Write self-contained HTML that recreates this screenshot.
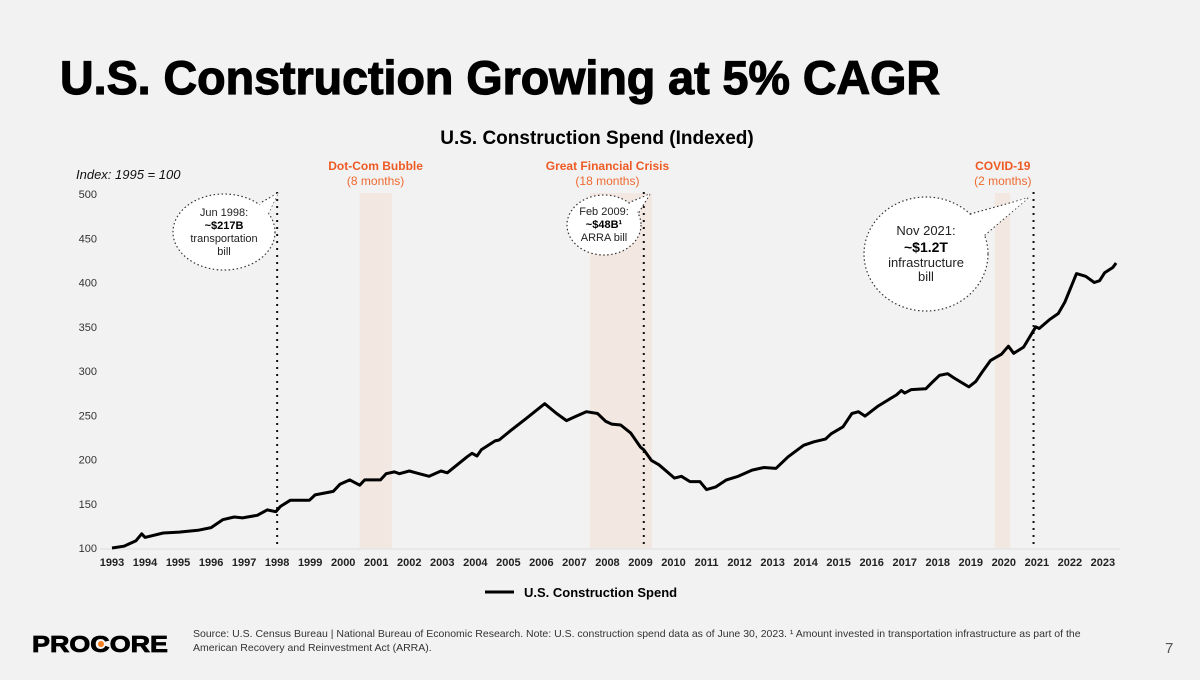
<!DOCTYPE html>
<html><head><meta charset="utf-8">
<style>
html,body{margin:0;padding:0;background:#f2f2f2;}
body{width:1200px;height:675px;overflow:hidden;position:relative;font-family:"Liberation Sans",sans-serif;}
svg text{font-family:"Liberation Sans",sans-serif;}
</style></head>
<body>
<svg id="chart" width="1200" height="675" viewBox="0 0 1200 675" xmlns="http://www.w3.org/2000/svg">
<rect width="1200" height="675" fill="#f2f2f2"/>
<text x="60" y="94" font-size="47" font-weight="bold" fill="#000" stroke="#000" stroke-width="1.2" textLength="880" lengthAdjust="spacingAndGlyphs">U.S. Construction Growing at 5% CAGR</text>
<text x="597" y="144" font-size="19" font-weight="bold" text-anchor="middle" fill="#000">U.S. Construction Spend (Indexed)</text>
<text x="76" y="179" font-size="13" font-style="italic" fill="#111">Index: 1995 = 100</text>
<g id="shades"></g>
<g id="events"></g>
<g id="yaxis"></g>
<g id="xaxis"></g>
<line x1="100" y1="549" x2="1120" y2="549" stroke="#ddd" stroke-width="1"/>
<g id="vlines"></g>
<path id="series" fill="none" stroke="#000" stroke-width="3" stroke-linejoin="round"/>
<g>
<path d="M262,202 L278,193 L268,214 Z" fill="#fff" stroke="#333" stroke-width="1.2" stroke-dasharray="1.5,2.5"/>
<ellipse cx="224" cy="232" rx="51" ry="38" fill="#fff" stroke="#333" stroke-width="1.2" stroke-dasharray="1.5,2.5"/>
<path d="M258,206 L278,193 L268,214" fill="#fff"/>
<text x="224" y="216" font-size="11" text-anchor="middle" fill="#222">Jun 1998:</text>
<text x="224" y="229" font-size="11" font-weight="bold" text-anchor="middle" fill="#000">~$217B</text>
<text x="224" y="242" font-size="11" text-anchor="middle" fill="#222">transportation</text>
<text x="224" y="255" font-size="11" text-anchor="middle" fill="#222">bill</text>
</g>
<g>
<path d="M628,203 L650,194 L638,214 Z" fill="#fff" stroke="#333" stroke-width="1.2" stroke-dasharray="1.5,2.5"/>
<ellipse cx="604" cy="225" rx="37" ry="30" fill="#fff" stroke="#333" stroke-width="1.2" stroke-dasharray="1.5,2.5"/>
<path d="M625,206 L650,194 L636,214" fill="#fff"/>
<text x="604" y="215" font-size="11" text-anchor="middle" fill="#222">Feb 2009:</text>
<text x="604" y="228" font-size="11" font-weight="bold" text-anchor="middle" fill="#000">~$48B¹</text>
<text x="604" y="241" font-size="11" text-anchor="middle" fill="#222">ARRA bill</text>
</g>
<g>
<path d="M970,214 L1028,198 L985,235 Z" fill="#fff" stroke="#333" stroke-width="1.2" stroke-dasharray="1.5,2.5"/>
<ellipse cx="926" cy="254" rx="62" ry="57" fill="#fff" stroke="#333" stroke-width="1.2" stroke-dasharray="1.5,2.5"/>
<path d="M965,217 L1028,198 L983,236" fill="#fff"/>
<text x="926" y="235" font-size="13" text-anchor="middle" fill="#222">Nov 2021:</text>
<text x="926" y="252" font-size="14" font-weight="bold" text-anchor="middle" fill="#000">~$1.2T</text>
<text x="926" y="267" font-size="13" text-anchor="middle" fill="#222">infrastructure</text>
<text x="926" y="281" font-size="13" text-anchor="middle" fill="#222">bill</text>
</g>
<g>
<line x1="485" y1="592" x2="514" y2="592" stroke="#000" stroke-width="3"/>
<text x="524" y="597" font-size="13" font-weight="bold" fill="#000">U.S. Construction Spend</text>
</g>
<g>
<text x="32" y="652" font-size="23" font-weight="bold" fill="#000" stroke="#000" stroke-width="0.8" textLength="136" lengthAdjust="spacingAndGlyphs">PROCORE</text>
<circle cx="101" cy="644" r="3" fill="#f47e20"/>
</g>
<text x="193" y="637" font-size="10.5" fill="#333">Source: U.S. Census Bureau | National Bureau of Economic Research. Note: U.S. construction spend data as of June 30, 2023. ¹ Amount invested in transportation infrastructure as part of the</text>
<text x="193" y="651" font-size="10.5" fill="#333">American Recovery and Reinvestment Act (ARRA).</text>
<text x="1165" y="653" font-size="15" fill="#555">7</text>
</svg>
<script>
const years=[1993,1993.36,1993.72,1993.9,1994.0,1994.55,1995.03,1995.6,1996.0,1996.35,1996.7,1996.95,1997.4,1997.7,1997.96,1998.1,1998.4,1998.98,1999.15,1999.7,1999.9,2000.2,2000.5,2000.65,2001.13,2001.3,2001.55,2001.7,2002.0,2002.2,2002.6,2002.96,2003.15,2003.75,2003.9,2004.05,2004.18,2004.6,2004.72,2005.08,2005.56,2006.1,2006.46,2006.76,2007.0,2007.36,2007.7,2007.95,2008.13,2008.4,2008.7,2009.0,2009.1,2009.33,2009.56,2010.03,2010.24,2010.5,2010.8,2011.0,2011.28,2011.6,2011.96,2012.38,2012.74,2013.1,2013.47,2013.94,2014.25,2014.6,2014.77,2015.13,2015.4,2015.6,2015.8,2016.18,2016.44,2016.75,2016.9,2017.0,2017.2,2017.64,2017.8,2018.05,2018.3,2018.5,2018.94,2019.15,2019.35,2019.6,2019.93,2020.14,2020.3,2020.6,2020.97,2021.07,2021.38,2021.65,2021.85,2022.2,2022.48,2022.74,2022.9,2023.05,2023.3,2023.4];
const values=[100,102,108,116,112,117,118,120,123,132,135,134,137,143,141,147,154,154,160,164,172,177,171,177,177,184,186,184,187,185,181,187,185,203,207,204,211,221,222,233,247,263,252,244,248,254,252,243,240,239,230,214,211,199,194,179,181,175,175,166,169,177,181,188,191,190,203,216,220,223,229,237,252,254,249,260,266,273,278,275,279,280,286,295,297,292,282,288,299,312,319,328,320,327,350,348,358,365,378,410,407,400,402,411,417,422];
const yTicks=[100,150,200,250,300,350,400,450,500];
const xTickYears=[1993,1994,1995,1996,1997,1998,1999,2000,2001,2002,2003,2004,2005,2006,2007,2008,2009,2010,2011,2012,2013,2014,2015,2016,2017,2018,2019,2020,2021,2022,2023];
const shadeStarts=[2000.5,2007.47,2019.73];
const shadeEnds=[2001.47,2009.35,2020.19];
const eventLabelYears=[2000.98,2008.0,2019.97];
const eventNames=["Dot-Com Bubble","Great Financial Crisis","COVID-19"];
const eventDurations=["(8 months)","(18 months)","(2 months)"];
const billYears=[1998.0,2009.1,2020.9];
const NS="http://www.w3.org/2000/svg";
function xs(t){return 112+(t-1993)*33.03;}
function ys(v){return 548-(v-100)*0.885;}
function mk(tag,attrs,parent,txt){const e=document.createElementNS(NS,tag);for(const k in attrs)e.setAttribute(k,attrs[k]);if(txt!==undefined)e.textContent=txt;document.getElementById(parent).appendChild(e);return e;}
yTicks.forEach(v=>{const t=mk('text',{x:97,y:ys(v)+4,'font-size':11,'text-anchor':'end',fill:'#333'},'yaxis',String(v));

});
xTickYears.forEach(y=>{const t=mk('text',{x:xs(y),y:566,'font-size':11,'font-weight':'bold','text-anchor':'middle',fill:'#222'},'xaxis',String(y));

});
shadeStarts.forEach((s,i)=>{const r=mk('rect',{x:xs(s),y:193,width:xs(shadeEnds[i])-xs(s),height:355,fill:'#f3e4dc','fill-opacity':0.8},'shades');


const cx=xs(eventLabelYears[i]);
const a=mk('text',{x:cx,y:170,'font-size':12,'font-weight':'bold','text-anchor':'middle',fill:'#ee5a24'},'events',eventNames[i]);


const b=mk('text',{x:cx,y:185,'font-size':12,'text-anchor':'middle',fill:'#ee6a30'},'events',eventDurations[i]);

});
billYears.forEach(y=>{const l=mk('line',{x1:xs(y),y1:192,x2:xs(y),y2:548,stroke:'#111','stroke-width':2,'stroke-dasharray':'2,5'},'vlines');

});
let d='';years.forEach((y,i)=>{d+=(i?'L':'M')+xs(y).toFixed(1)+','+ys(values[i]).toFixed(1);});
document.getElementById('series').setAttribute('d',d);
</script>
</body></html>
